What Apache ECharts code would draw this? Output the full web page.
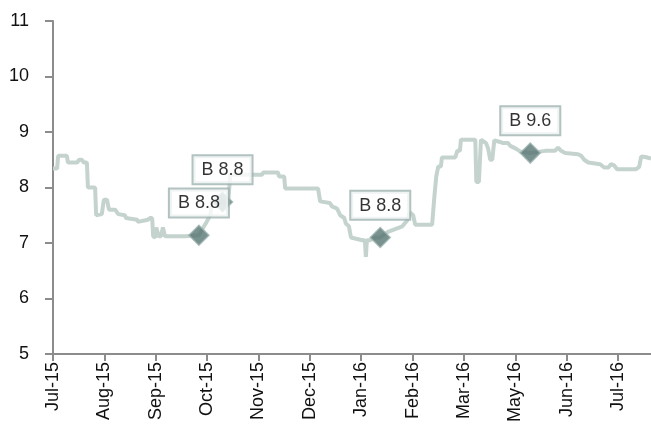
<!DOCTYPE html>
<html>
<head>
<meta charset="utf-8">
<script src="https://cdn.jsdelivr.net/npm/echarts@6/dist/echarts.min.js"></script>
<style>
html,body{margin:0;padding:0;background:#fff;}
#chart{width:651px;height:425px;}
</style>
</head>
<body>
<div id="chart"></div>
<script>
// x tick labels (one per month position; the source skips Apr-16)
const monthLabels = ['Jul-15','Aug-15','Sep-15','Oct-15','Nov-15','Dec-15','Jan-16','Feb-16','Mar-16','May-16','Jun-16','Jul-16'];
// time position of each observation, in months since Jul-15
const obsTime = [0,0.08,0.10,0.27,0.29,0.47,0.51,0.56,0.60,0.66,0.68,0.72,0.74,0.82,0.84,0.95,0.99,1.05,1.09,1.21,1.27,1.40,1.42,1.64,1.65,1.85,1.89,1.93,1.95,1.99,2.01,2.04,2.06,2.10,2.14,2.18,2.57,2.84,2.94,2.99,3.06,3.10,3.41,3.45,3.89,4.07,4.09,4.38,4.40,4.50,4.52,5.16,5.20,5.39,5.43,5.53,5.59,5.67,5.70,5.76,5.80,6.02,6.07,6.09,6.11,6.17,6.27,6.37,6.52,6.66,6.80,6.89,6.95,7.01,7.05,7.38,7.42,7.46,7.50,7.55,7.57,7.83,7.87,7.92,7.94,8.22,8.24,8.29,8.33,8.43,8.47,8.51,8.55,8.59,8.70,8.76,8.86,8.90,9.01,9.09,9.29,9.58,9.77,9.83,9.89,9.97,10.22,10.28,10.34,10.42,10.65,10.73,10.81,10.86,10.92,10.98,11.35,11.41,11.45,11.53,11.64];
// series values
const obsValue = [8.34,8.34,8.57,8.57,8.45,8.45,8.5,8.5,8.45,8.45,8.0,8.0,8.02,8.0,7.5,7.52,7.78,7.78,7.6,7.6,7.52,7.5,7.45,7.42,7.38,7.42,7.45,7.45,7.12,7.1,7.28,7.3,7.12,7.12,7.28,7.12,7.12,7.14,7.3,7.38,7.5,7.75,7.73,8.23,8.23,8.23,8.27,8.27,8.2,8.2,7.98,7.98,7.75,7.72,7.66,7.62,7.5,7.45,7.35,7.3,7.1,7.05,7.05,6.75,7.05,7.05,7.1,7.1,7.2,7.25,7.3,7.4,7.55,7.5,7.33,7.33,7.8,8.2,8.38,8.38,8.54,8.54,8.66,8.66,8.86,8.86,8.1,8.1,8.86,8.8,8.7,8.5,8.5,8.85,8.82,8.8,8.8,8.75,8.7,8.65,8.62,8.66,8.66,8.72,8.66,8.62,8.6,8.57,8.5,8.45,8.42,8.36,8.36,8.42,8.4,8.33,8.33,8.37,8.56,8.55,8.52];
// highlighted points
const markTime = [2.84, 3.30, 6.37, 9.29];
const markValue = [7.14, 7.74, 7.10, 8.62];
const markText = ['B 8.8', 'B 8.8', 'B 8.8', 'B 9.6'];
// y ticks
const yMin = 5, yMax = 11, yStep = 1;
const xMax = 11.64;

const lineData = obsTime.map((t, i) => [t, obsValue[i]]);
const markData = markTime.map((t, i) => ({ value: [t, markValue[i]], name: markText[i] }));
const tickVals = monthLabels.map((_, i) => i);

const axisColor = '#8c8c8c';
const font = '"Liberation Sans", Arial, sans-serif';

const chart = echarts.init(document.getElementById('chart'));
chart.setOption({
  animation: false,
  backgroundColor: '#ffffff',
  grid: { left: 53, right: 0, top: 21, bottom: 70 },
  xAxis: {
    type: 'value', min: 0, max: xMax, interval: 1,
    axisLine: { show: true, lineStyle: { color: axisColor, width: 2 } },
    axisTick: { show: true, length: 7, lineStyle: { color: axisColor, width: 2 }, customValues: tickVals },
    splitLine: { show: false },
    axisLabel: {
      rotate: 90, margin: 8, fontSize: 18, color: '#111', fontFamily: font,
      customValues: tickVals,
      formatter: v => monthLabels[Math.round(v)] || ''
    }
  },
  yAxis: {
    type: 'value', min: yMin, max: yMax, interval: yStep,
    axisLine: { show: true, lineStyle: { color: axisColor, width: 2 } },
    axisTick: { show: true, length: 8, lineStyle: { color: axisColor, width: 2 } },
    splitLine: { show: false },
    axisLabel: { margin: 24, fontSize: 18, color: '#111', fontFamily: font }
  },
  series: [
    {
      type: 'line', data: lineData, symbol: 'none', smooth: false,
      lineStyle: { color: '#c5d3cf', width: 4 }, z: 2
    },
    {
      type: 'scatter', data: markData, symbol: 'diamond', symbolSize: 20,
      itemStyle: { color: '#587573', borderColor: '#9bb1ae', borderWidth: 1.5 },
      z: 3,
      label: {
        show: true, position: 'top', distance: 8,
        formatter: p => p.name,
        fontSize: 18, lineHeight: 20, color: '#000', fontFamily: font,
        backgroundColor: '#ffffff', borderColor: '#9db3b0', borderWidth: 2,
        padding: [4, 8, 3, 8]
      }
    }
  ]
});
</script>
</body>
</html>
